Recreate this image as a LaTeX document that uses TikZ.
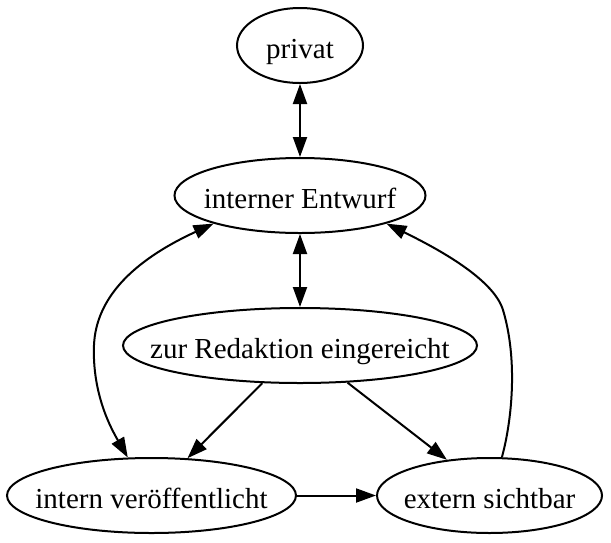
\documentclass[tikz,border=0pt]{standalone}
\usepackage{fontspec}
\setmainfont{Liberation Serif}
\usetikzlibrary{shapes.geometric,arrows.meta}
\newcommand{\zlabel}[1]{\makebox[0pt]{#1}}
\begin{document}
\begin{tikzpicture}[x=1pt,y=-1pt,
  st/.style={draw,ellipse,line width=2pt,inner sep=0pt,minimum height=75pt,
    text height=26pt,text depth=0pt,
    font=\fontsize{29}{34}\selectfont},
  edge/.style={line width=2pt,-{Triangle[length=20pt,width=14pt]}},
  bedge/.style={line width=2pt,{Triangle[length=20pt,width=14pt]}-{Triangle[length=20pt,width=14pt]}}]
\useasboundingbox (0,0) rectangle (611,542);
\node[st,minimum width=126pt] (pr) at (300,45.5) {\zlabel{privat}};
\node[st,minimum width=251pt] (ie) at (300,195.5) {\zlabel{interner Entwurf}};
\node[st,minimum width=354pt] (zr) at (300,345.5) {\zlabel{zur Redaktion eingereicht}};
\node[st,minimum width=289pt] (iv) at (151.5,495.5) {\zlabel{intern veröffentlicht}};
\node[st,minimum width=225pt] (es) at (489.5,495.5) {\zlabel{extern sichtbar}};
\draw[bedge] (pr) -- (ie);
\draw[bedge] (ie) -- (zr);
\draw[bedge] (ie.198) .. controls (130,262) and (96,300) .. (94,345)
  .. controls (92,395) and (112,430) .. (iv.122);
\draw[edge] (zr.225) -- (iv.46);
\draw[edge] (zr.322) -- (es.140);
\draw[edge] (iv) -- (es);
\draw[edge] (es.72) .. controls (512,420) and (518,360) .. (503,310)
  .. controls (493,277) and (430,245) .. (ie.342);
\end{tikzpicture}
\end{document}
